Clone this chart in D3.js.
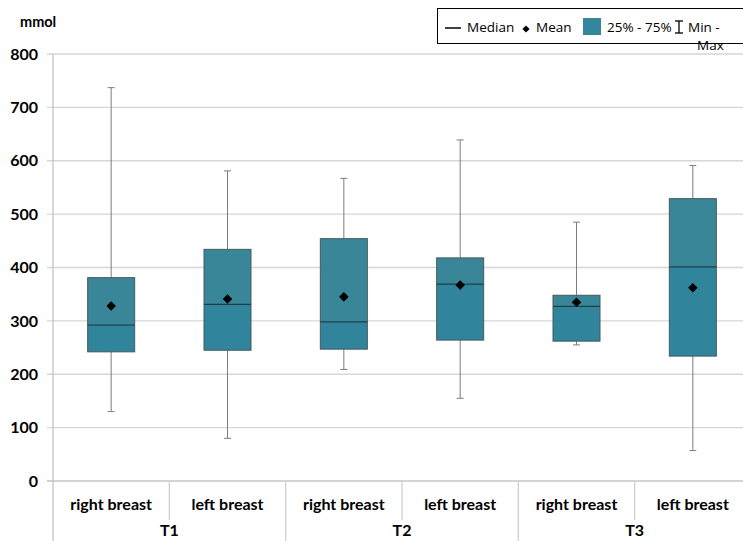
<!DOCTYPE html>
<html>
<head>
<meta charset="utf-8">
<script src="https://cdn.jsdelivr.net/npm/d3@7"></script>
<style>
  body { margin: 0; background: #fff; }
  svg { display: block; }
  .tick-label { font-family: Lato, "Open Sans", sans-serif; font-weight: bold; font-size: 16px; fill: #000; }
  .legend-text { font-family: "Open Sans", sans-serif; font-size: 13.5px; fill: #000; }
</style>
</head>
<body>
<div id="chart-container"></div>
<script>
// data
const groups = ['T1', 'T2', 'T3'];
const sides = ['right breast', 'left breast'];
const minV  = [130, 80, 209, 155, 255, 57];
const q1V   = [242, 245, 247, 264, 262, 234];
const medV  = [292, 331, 298, 369, 327, 401];
const meanV = [328, 341, 345, 367, 335, 362];
const q3V   = [381, 434, 454, 418, 348, 529];
const maxV  = [737, 581, 567, 639, 485, 591];
const yTicks = [0, 100, 200, 300, 400, 500, 600, 700, 800];

const width = 743;
const height = 541;
const plot = { left: 53, right: 751, top: 54, bottom: 481 };

const cats = [];
groups.forEach(g => sides.forEach(s => cats.push({ group: g, side: s, id: g + '|' + s })));
const data = cats.map((c, i) => ({
  ...c, min: minV[i], q1: q1V[i], med: medV[i], mean: meanV[i], q3: q3V[i], max: maxV[i]
}));

const svg = d3.select('#chart-container')
  .append('svg')
  .attr('width', width)
  .attr('height', height);

const x = d3.scaleBand()
  .domain(cats.map(c => c.id))
  .range([plot.left, plot.right])
  .padding(0);

const xGroup = d3.scaleBand()
  .domain(groups)
  .range([plot.left, plot.right])
  .padding(0);

const y = d3.scaleLinear()
  .domain([0, 800])
  .range([plot.bottom, plot.top]);

// gridlines
svg.append('g')
  .selectAll('line')
  .data(yTicks)
  .enter()
  .append('line')
  .attr('x1', plot.left - 6)
  .attr('x2', width)
  .attr('y1', d => y(d))
  .attr('y2', d => y(d))
  .attr('stroke', d => d === 0 ? '#c4c4c4' : '#d6d6d6')
  .attr('stroke-width', 1.3);

// y axis
const yAxis = d3.axisLeft(y).tickValues(yTicks).tickSize(0).tickPadding(15);
const yg = svg.append('g')
  .attr('transform', `translate(${plot.left},0)`)
  .call(yAxis);
yg.select('.domain').remove();
yg.selectAll('text').attr('class', 'tick-label').attr('font-size', null).attr('font-family', null);

// y axis line running down through the category area
svg.append('line')
  .attr('x1', plot.left).attr('x2', plot.left)
  .attr('y1', plot.top).attr('y2', height)
  .attr('stroke', '#c4c4c4').attr('stroke-width', 1.3);

svg.append('text')
  .attr('class', 'tick-label')
  .attr('x', 20)
  .attr('y', 27)
  .style('font-size', '14.5px')
  .text('mmol');

// category separators
const bounds = cats.map((c, i) => ({ x: x(c.id) + x.bandwidth(), long: i % 2 === 1 }));
svg.append('g')
  .selectAll('line')
  .data(bounds)
  .enter()
  .append('line')
  .attr('x1', d => d.x).attr('x2', d => d.x)
  .attr('y1', plot.bottom)
  .attr('y2', d => d.long ? height : 520)
  .attr('stroke', '#d0d0d0')
  .attr('stroke-width', 1.3);

// category labels
svg.append('g')
  .selectAll('text')
  .data(cats)
  .enter()
  .append('text')
  .attr('class', 'tick-label')
  .attr('x', d => x(d.id) + x.bandwidth() / 2)
  .attr('y', 510)
  .attr('text-anchor', 'middle')
  .text(d => d.side);

svg.append('g')
  .selectAll('text')
  .data(groups)
  .enter()
  .append('text')
  .attr('class', 'tick-label')
  .attr('x', d => xGroup(d) + xGroup.bandwidth() / 2)
  .attr('y', 536)
  .attr('text-anchor', 'middle')
  .text(d => d);

// boxes
const boxW = 47;
const capW = 7;
const box = svg.append('g')
  .selectAll('g')
  .data(data)
  .enter()
  .append('g')
  .attr('transform', d => `translate(${x(d.id) + x.bandwidth() / 2},0)`);

box.append('line')
  .attr('x1', 0).attr('x2', 0)
  .attr('y1', d => y(d.max)).attr('y2', d => y(d.min))
  .attr('stroke', '#7d7d7d').attr('stroke-width', 1);

box.append('line')
  .attr('x1', -capW / 2).attr('x2', capW / 2)
  .attr('y1', d => y(d.max)).attr('y2', d => y(d.max))
  .attr('stroke', '#7d7d7d').attr('stroke-width', 1);

box.append('line')
  .attr('x1', -capW / 2).attr('x2', capW / 2)
  .attr('y1', d => y(d.min)).attr('y2', d => y(d.min))
  .attr('stroke', '#7d7d7d').attr('stroke-width', 1);

box.append('rect')
  .attr('x', -boxW / 2)
  .attr('width', boxW)
  .attr('y', d => y(d.q3))
  .attr('height', d => y(d.med) - y(d.q3))
  .attr('fill', '#3a8699');

box.append('rect')
  .attr('x', -boxW / 2)
  .attr('width', boxW)
  .attr('y', d => y(d.med))
  .attr('height', d => y(d.q1) - y(d.med))
  .attr('fill', '#30859c');

box.append('rect')
  .attr('x', -boxW / 2)
  .attr('width', boxW)
  .attr('y', d => y(d.q3))
  .attr('height', d => y(d.q1) - y(d.q3))
  .attr('fill', 'none')
  .attr('stroke', '#46595f')
  .attr('stroke-width', 1);

box.append('line')
  .attr('x1', -boxW / 2).attr('x2', boxW / 2)
  .attr('y1', d => y(d.med)).attr('y2', d => y(d.med))
  .attr('stroke', '#1c3f4a').attr('stroke-width', 1.3);

// mean: square turned 45 degrees
box.append('path')
  .attr('d', d3.symbol(d3.symbolSquare, 46))
  .attr('transform', d => `translate(0,${y(d.mean)}) rotate(45)`)
  .attr('fill', '#000');

// legend
const lg = svg.append('g');
lg.append('rect')
  .attr('x', 437.5).attr('y', 8.5)
  .attr('width', 330).attr('height', 35)
  .attr('fill', '#fff')
  .attr('stroke', '#000').attr('stroke-width', 1);

lg.append('line')
  .attr('x1', 445).attr('x2', 461)
  .attr('y1', 28).attr('y2', 28)
  .attr('stroke', '#000').attr('stroke-width', 1.5);
lg.append('text').attr('class', 'legend-text').attr('x', 467).attr('y', 32).text('Median');

lg.append('path')
  .attr('d', d3.symbol(d3.symbolSquare, 26))
  .attr('transform', 'translate(526,29) rotate(45)')
  .attr('fill', '#000');
lg.append('text').attr('class', 'legend-text').attr('x', 536).attr('y', 32).text('Mean');

lg.append('rect')
  .attr('x', 583).attr('y', 18)
  .attr('width', 18).attr('height', 17)
  .attr('fill', '#33869c');
lg.append('text').attr('class', 'legend-text').attr('x', 607).attr('y', 32).text('25% - 75%');

// min-max glyph
lg.append('line').attr('x1', 679).attr('x2', 679).attr('y1', 21).attr('y2', 33).attr('stroke', '#000').attr('stroke-width', 1.3);
lg.append('line').attr('x1', 675).attr('x2', 683).attr('y1', 21).attr('y2', 21).attr('stroke', '#000').attr('stroke-width', 1.3);
lg.append('line').attr('x1', 675).attr('x2', 683).attr('y1', 33).attr('y2', 33).attr('stroke', '#000').attr('stroke-width', 1.3);
lg.append('text').attr('class', 'legend-text').attr('x', 688).attr('y', 32).text('Min -');
lg.append('text').attr('class', 'legend-text').attr('x', 697).attr('y', 50).text('Max');
</script>
</body>
</html>
